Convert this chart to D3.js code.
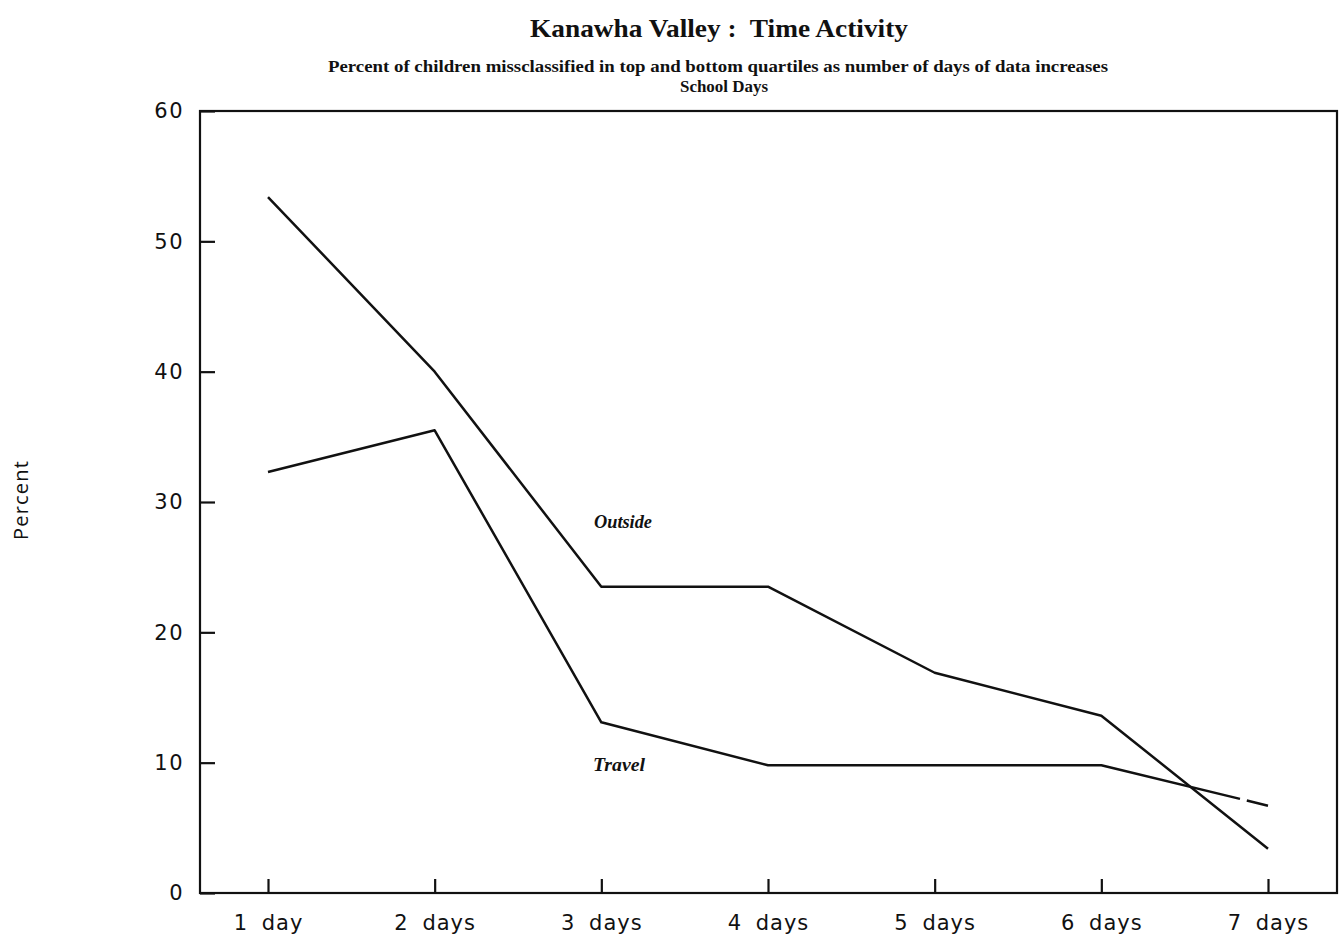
<!DOCTYPE html>
<html>
<head>
<meta charset="utf-8">
<script src="https://cdn.jsdelivr.net/npm/d3@7"></script>
<style>
  html, body { margin: 0; padding: 0; background: #fff; }
  svg { display: block; }
</style>
</head>
<body>
<svg id="chart" width="1339" height="941"></svg>
<script>
// Days of data collected
const categories = ["1 day", "2 days", "3 days", "4 days", "5 days", "6 days", "7 days"];
// Percent of children misclassified, school days
const outsideValues = [53.4, 40.0, 23.5, 23.5, 16.9, 13.6, 3.4];
const travelValues  = [32.3, 35.5, 13.1, 9.8, 9.8, 9.8, 6.7];
const yTicks = [0, 10, 20, 30, 40, 50, 60];

const svg = d3.select("#chart");
const frame = { left: 200, right: 1337, top: 111, bottom: 893 };

const x = d3.scalePoint().domain(categories).range([268, 1268]);
const y = d3.scaleLinear().domain([0, 60]).range([frame.bottom, frame.top]);

const ink = "#111";
const serif = "Liberation Serif, Times New Roman, serif";
const tickFont = "DejaVu Sans, sans-serif";

// Frame
svg.append("rect")
  .attr("x", frame.left).attr("y", frame.top)
  .attr("width", frame.right - frame.left).attr("height", frame.bottom - frame.top)
  .attr("fill", "none").attr("stroke", ink).attr("stroke-width", 2.2);

// Y axis with inward ticks
const yAxis = svg.append("g")
  .attr("transform", `translate(${frame.left},0)`)
  .call(d3.axisLeft(y).tickValues(yTicks).tickSize(-15).tickPadding(16).tickSizeOuter(0));
yAxis.select(".domain").remove();
yAxis.selectAll("line").attr("stroke", ink).attr("stroke-width", 2.2);
yAxis.selectAll("text")
  .attr("font-family", tickFont)
  .attr("font-size", 21).attr("fill", ink)
  .attr("letter-spacing", 1.5);

// X axis with inward ticks
const xAxis = svg.append("g")
  .attr("transform", `translate(0,${frame.bottom})`)
  .call(d3.axisBottom(x).tickSize(-14).tickPadding(22).tickSizeOuter(0));
xAxis.select(".domain").remove();
xAxis.selectAll("line").attr("stroke", ink).attr("stroke-width", 2.2);
xAxis.selectAll("text")
  .attr("font-family", tickFont)
  .attr("font-size", 21).attr("fill", ink)
  .attr("letter-spacing", 1)
  .style("word-spacing", "6px");

// Series lines
const line = d3.line().x((d, i) => x(categories[i])).y(d => y(d));
const outsidePath = svg.append("path")
  .datum(outsideValues)
  .attr("d", line)
  .attr("fill", "none").attr("stroke", ink)
  .attr("stroke-width", 2.5).attr("stroke-linejoin", "round");
const travelPath = svg.append("path")
  .datum(travelValues)
  .attr("d", line)
  .attr("fill", "none").attr("stroke", ink)
  .attr("stroke-width", 2.5).attr("stroke-linejoin", "round");

// Short break in the travel trace near its last point
(function () {
  const node = travelPath.node();
  const total = node.getTotalLength();
  const gapX = 1240;
  let lo = 0, hi = total;
  for (let i = 0; i < 40; i++) {
    const mid = (lo + hi) / 2;
    if (node.getPointAtLength(mid).x < gapX) lo = mid; else hi = mid;
  }
  travelPath.attr("stroke-dasharray", `${lo} 7 ${total}`);
})();

// Series labels
svg.append("text").attr("x", 594).attr("y", 528)
  .attr("font-family", serif).attr("font-weight", "bold")
  .attr("font-style", "italic").attr("font-size", 18).attr("fill", ink)
  .attr("textLength", 58).attr("lengthAdjust", "spacingAndGlyphs")
  .text("Outside");
svg.append("text").attr("x", 593).attr("y", 771)
  .attr("font-family", serif).attr("font-weight", "bold")
  .attr("font-style", "italic").attr("font-size", 18).attr("fill", ink)
  .attr("textLength", 52).attr("lengthAdjust", "spacingAndGlyphs")
  .text("Travel");

// Titles
svg.append("text").attr("x", 530).attr("y", 37)
  .attr("font-family", serif).attr("font-weight", "bold")
  .attr("font-size", 26).attr("fill", ink)
  .attr("textLength", 378).attr("lengthAdjust", "spacingAndGlyphs")
  .style("white-space", "pre").text("Kanawha Valley :  Time Activity");
svg.append("text").attr("x", 328).attr("y", 72)
  .attr("font-family", serif).attr("font-weight", "bold")
  .attr("font-size", 16).attr("fill", ink)
  .attr("textLength", 780).attr("lengthAdjust", "spacingAndGlyphs")
  .text("Percent of children missclassified in top and bottom quartiles as number of days of data increases");
svg.append("text").attr("x", 680).attr("y", 92)
  .attr("font-family", serif).attr("font-weight", "bold")
  .attr("font-size", 16).attr("fill", ink)
  .attr("textLength", 88).attr("lengthAdjust", "spacingAndGlyphs")
  .text("School Days");

// Y axis title
svg.append("text")
  .attr("transform", "translate(28,500) rotate(-90)")
  .attr("text-anchor", "middle")
  .attr("font-family", "Open Sans, sans-serif")
  .attr("font-size", 20).attr("fill", ink)
  .attr("letter-spacing", 1.2)
  .text("Percent");
</script>
</body>
</html>
